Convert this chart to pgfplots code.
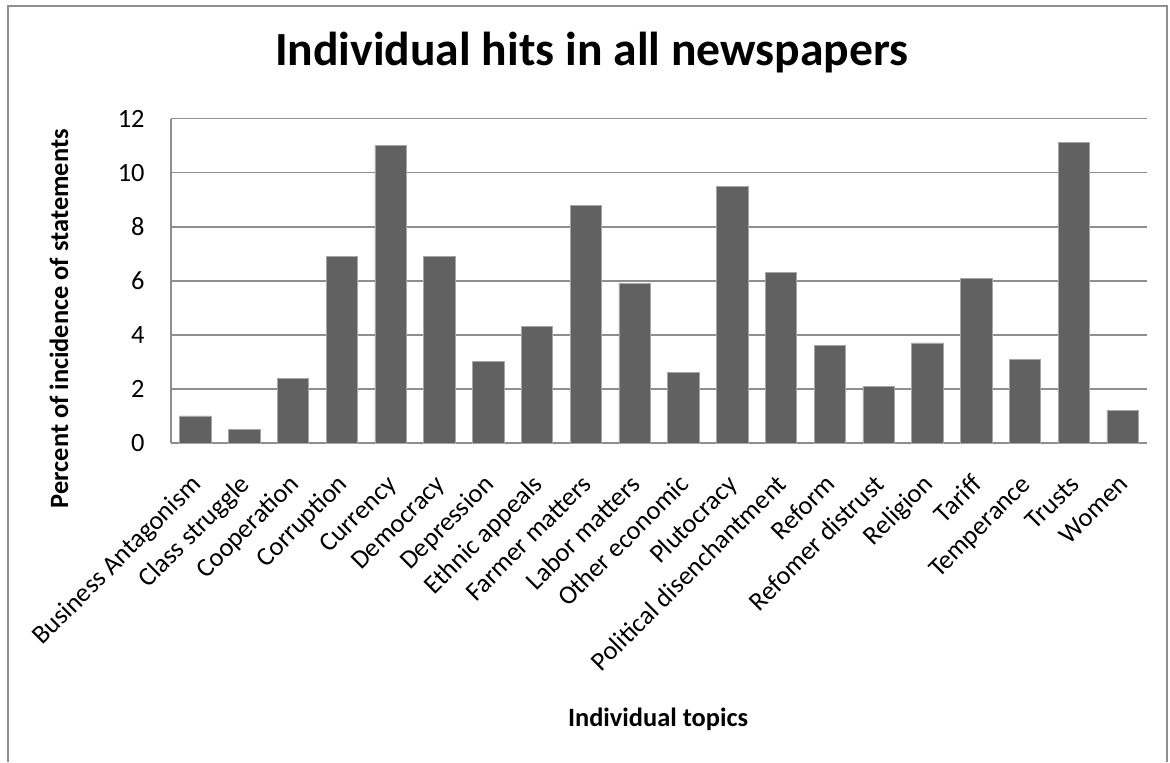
\documentclass[border=0pt]{standalone}
\usepackage{fontspec}
\setmainfont{Carlito}
\usepackage{pgfplots}
\pgfplotsset{compat=1.18}
\definecolor{barc}{HTML}{616161}
\definecolor{baredge}{HTML}{A6A6A6}
\definecolor{gridc}{HTML}{8E8E8E}
\definecolor{framec}{HTML}{8E8E8E}
\begin{document}
\begin{tikzpicture}[x=1pt,y=1pt]
\useasboundingbox (0,0) rectangle (585,381);
\draw[framec, line width=0.8pt] (4,0) -- (4,378) -- (583.5,378) -- (583.5,0);
\begin{axis}[
  at={(85.5pt,159.5pt)}, anchor=south west,
  scale only axis, width=488pt, height=162.25pt,
  xmin=-0.5, xmax=19.5, ymin=0, ymax=12,
  ytick={0,2,...,12},
  xtick={0,...,19},
  xticklabels={Business Antagonism, Class struggle, Cooperation, Corruption, Currency, Democracy, Depression, Ethnic appeals, Farmer matters, Labor matters, Other economic, Plutocracy, Political disenchantment, Reform, Refomer distrust, Religion, Tariff, Temperance, Trusts, Women},
  ymajorgrids, grid style={gridc, line width=0.9pt},
  axis x line*=bottom, axis y line*=left,
  axis line style={gridc, line width=0.9pt, -},
  major tick length=0pt,
  /pgf/number format/assume math mode=true,
  tick label style={font=\fontsize{13.2}{15}\selectfont},
  yticklabel style={anchor=east, inner sep=0pt, xshift=-13pt},
  xticklabel style={inner sep=0pt, xshift=3.6pt, yshift=-21.3pt, rotate=45, anchor=base east},
  title={Individual hits in all newspapers},
  every axis title/.style={at={(axis description cs:0.431,1.163)}, anchor=base, font=\fontsize{23.8}{28}\selectfont\bfseries},
  xlabel={Individual topics},
  every axis x label/.style={at={(axis description cs:0.499,-0.874)}, anchor=base, font=\fontsize{13.2}{15}\selectfont\bfseries},
  ylabel={Percent of incidence of statements},
  every axis y label/.style={at={(axis description cs:-0.1055,0.383)}, rotate=90, anchor=base, font=\fontsize{13.2}{15}\selectfont\bfseries},
  ybar, bar width=15.7pt,
]
\addplot[fill=barc, draw=baredge, line width=0.4pt] coordinates {
(0,1.0) (1,0.5) (2,2.4) (3,6.9) (4,11.0) (5,6.9) (6,3.0) (7,4.3) (8,8.8) (9,5.9)
(10,2.6) (11,9.5) (12,6.3) (13,3.6) (14,2.1) (15,3.7) (16,6.1) (17,3.1) (18,11.1) (19,1.2)
};
\end{axis}
\end{tikzpicture}
\end{document}
